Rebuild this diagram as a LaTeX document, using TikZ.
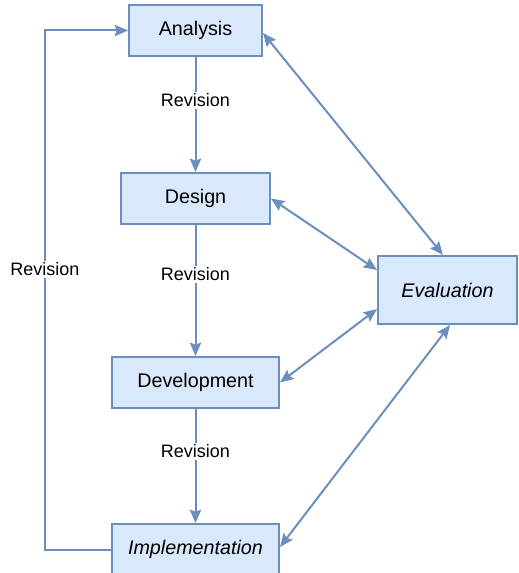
\documentclass[tikz,border=0pt]{standalone}
\usepackage{fontspec}
\setmainfont{Liberation Sans}
\usetikzlibrary{arrows.meta}
\definecolor{bstroke}{HTML}{6C8EBF}
\definecolor{bfill}{HTML}{DAE8FC}
\tikzset{
  px/.style={x=0.75pt,y=-0.75pt},
  box/.style={draw=bstroke,fill=bfill,line width=1.5pt,inner sep=0pt,font=\fontsize{14.8}{17}\selectfont,text=black},
  conn/.style={draw=bstroke,line width=1.5pt,-{Stealth[length=10pt,width=8.5pt,inset=1.5pt]}},
  dconn/.style={draw=bstroke,line width=1.5pt,{Stealth[length=10pt,width=8.5pt,inset=1.5pt]}-{Stealth[length=10pt,width=8.5pt,inset=1.5pt]}},
  lbl/.style={fill=white,inner sep=1.5pt,font=\fontsize{13.5}{16}\selectfont,text=black}
}
\begin{document}
\begin{tikzpicture}[px]
\useasboundingbox (0,0) rectangle (518,573);
\begin{scope}
\clip (0,0) rectangle (518,573);
\node[box,minimum width=99.75pt,minimum height=38.25pt] (ana) at (195.5,30.5) {Analysis};
\node[box,minimum width=111.75pt,minimum height=38.25pt] (des) at (195.5,198.5) {Design};
\node[box,minimum width=125.25pt,minimum height=38.25pt] (dev) at (195.5,382.5) {Development};
\node[box,minimum width=125.25pt,minimum height=38.25pt] (imp) at (195.5,549.5) {\itshape Implementation};
\node[box,minimum width=104.25pt,minimum height=51pt] (eva) at (447.5,290) {\itshape Evaluation};
\coordinate (loop) at (45,300);

\draw[conn] (ana) -- node[lbl,pos=0.375] (r1) {Revision} (des);
\draw[conn] (des) -- node[lbl,pos=0.375] (r2) {Revision} (dev);
\draw[conn] (dev) -- node[lbl,pos=0.37] (r3) {Revision} (imp);
\draw[conn] (imp.west) -- (imp.west -| loop) -- node[lbl,pos=0.54] (r4) {Revision} (ana.west -| loop) -- (ana.west);

\draw[dconn] ([yshift=-1.9pt]ana.east) -- ([xshift=-3.4pt]eva.north);
\draw[dconn] (des.east) -- ([yshift=15pt]eva.west);
\draw[dconn] (dev.east) -- ([yshift=-14.25pt]eva.west);
\draw[dconn] ([yshift=1.9pt]imp.east) -- ([xshift=1.9pt]eva.south);
\end{scope}
\end{tikzpicture}
\end{document}
